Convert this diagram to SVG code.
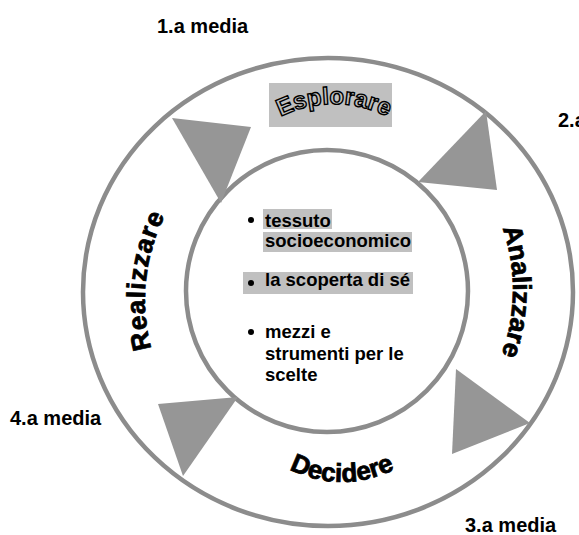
<svg xmlns="http://www.w3.org/2000/svg" width="579" height="535" viewBox="0 0 579 535">
<style>
.ring{fill:none;stroke:#8c8c8c;stroke-width:4.5}
.tri{fill:#969696}
.lbl{font-family:"Liberation Sans",Arial,sans-serif;font-weight:bold;font-size:20px;fill:#000}
.body{font-family:"Liberation Sans",Arial,sans-serif;font-weight:bold;font-size:18.5px;fill:#000}
.hl{fill:#c0c0c0}
.wa{font-family:"Liberation Sans",Arial,sans-serif;font-weight:bold;font-size:26px;fill:#000;stroke:#000;stroke-width:0.8}
.wao{font-family:"Liberation Sans",Arial,sans-serif;font-weight:bold;font-size:24px;fill:#c0c0c0;stroke:#000;stroke-width:1.4}
</style>
<defs>
<path id="pEsp" d="M 280 117 A 119 119 0 0 1 388 117"/>
<path id="pAna" d="M 502.4 228 A 187 187 0 0 1 501.3 355"/>
<path id="pDec" d="M 287 468 A 115 115 0 0 0 397 468"/>
<path id="pRea" d="M 152.5 352 A 185 185 0 0 1 167 212"/>
</defs>
<rect width="579" height="535" fill="#fff"/>
<g id="ring-outer"><ellipse class="ring" cx="328" cy="292" rx="245" ry="234"/></g>
<g id="ring-inner"><circle class="ring" cx="327" cy="291" r="141"/></g>
<g id="connectors">
<polygon class="tri" points="172,118 251,127 221,203"/>
<polygon class="tri" points="418,182 486,111 497,190"/>
<polygon class="tri" points="456,369 530,423 452,454"/>
<polygon class="tri" points="158,404 238,397 183,476"/>
</g>
<g id="esplorare">
<rect class="hl" x="269" y="83" width="123" height="44"/>
<text class="wao" text-anchor="middle"><textPath href="#pEsp" startOffset="50%">Esplorare</textPath></text>
</g>
<g id="analizzare">
<text class="wa" text-anchor="middle"><textPath href="#pAna" startOffset="50%">Analizzare</textPath></text>
</g>
<g id="decidere">
<text class="wa" text-anchor="middle"><textPath href="#pDec" startOffset="50%">Decidere</textPath></text>
</g>
<g id="realizzare">
<text class="wa" text-anchor="middle" letter-spacing="1"><textPath href="#pRea" startOffset="50%">Realizzare</textPath></text>
</g>
<g id="center">
<rect class="hl" x="263" y="209" width="69" height="20"/>
<rect class="hl" x="263" y="232" width="149" height="20"/>
<rect class="hl" x="243" y="272" width="170" height="22"/>
<circle cx="251" cy="220" r="3"/>
<circle cx="251" cy="283" r="3"/>
<circle cx="251" cy="332" r="3"/>
<text class="body" x="265" y="226.5">tessuto</text>
<text class="body" x="265" y="246.5">socioeconomico</text>
<text class="body" x="265" y="286">la scoperta di sé</text>
<text class="body" x="265" y="337.5">mezzi e</text>
<text class="body" x="265" y="360">strumenti per le</text>
<text class="body" x="265" y="381">scelte</text>
</g>
<g id="label-1"><text class="lbl" x="157" y="33">1.a media</text></g>
<g id="label-2"><text class="lbl" x="558" y="127">2.a</text></g>
<g id="label-3"><text class="lbl" x="465" y="532">3.a media</text></g>
<g id="label-4"><text class="lbl" x="10" y="425">4.a media</text></g>
</svg>
